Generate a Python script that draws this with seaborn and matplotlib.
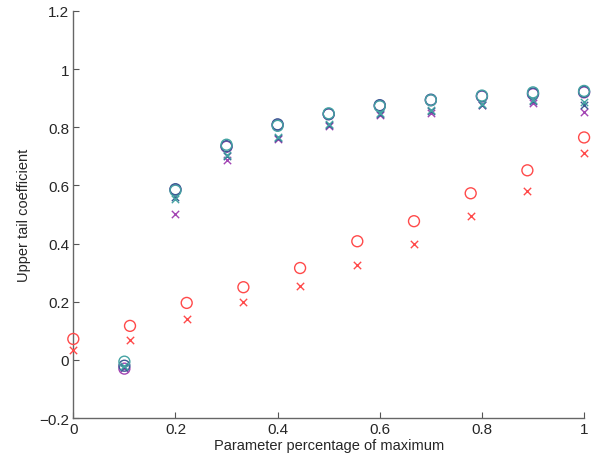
import pandas as pd
import matplotlib
matplotlib.use("Agg")
import matplotlib.pyplot as plt
import seaborn as sns

# x positions
x_red = [0, 0.111, 0.222, 0.333, 0.444, 0.556, 0.667, 0.778, 0.889, 1.0]
x_up = [0.1, 0.2, 0.3, 0.4, 0.5, 0.6, 0.7, 0.8, 0.9, 1.0]

# red series
red_o = [0.072, 0.117, 0.196, 0.250, 0.316, 0.408, 0.477, 0.573, 0.652, 0.765]
red_x = [0.034, 0.069, 0.141, 0.199, 0.254, 0.326, 0.400, 0.494, 0.580, 0.712]

# upper series (circles)
teal_o = [-0.006, 0.582, 0.740, 0.805, 0.848, 0.872, 0.893, 0.909, 0.920, 0.925]
blue_o = [-0.020, 0.587, 0.735, 0.810, 0.845, 0.876, 0.895, 0.907, 0.916, 0.922]
purple_o = [-0.030, 0.585, 0.733, 0.808, 0.845, 0.874, 0.893, 0.906, 0.914, 0.920]

# upper series (crosses)
teal_x = [-0.022, 0.555, 0.705, 0.765, 0.810, 0.848, 0.860, 0.880, 0.895, 0.886]
blue_x = [-0.025, 0.560, 0.700, 0.763, 0.808, 0.845, 0.857, 0.878, 0.890, 0.875]
purple_x = [-0.028, 0.503, 0.686, 0.760, 0.805, 0.843, 0.850, 0.876, 0.882, 0.853]

colors = {"teal": "#45a3a3", "blue": "#3b5a94", "purple": "#a345b3", "red": "#ff4a4a"}

series = [
    ("red", x_red, red_o, red_x),
    ("purple", x_up, purple_o, purple_x),
    ("blue", x_up, blue_o, blue_x),
    ("teal", x_up, teal_o, teal_x),
]

sns.set_style("ticks")
plt.rcParams["font.family"] = ["Liberation Sans", "DejaVu Sans"]

fig = plt.figure(figsize=(5.96, 4.6), dpi=100)
ax = fig.add_axes([0.123, 0.089, 0.857, 0.885])

for name, xs, yo, yx in series:
    c = colors[name]
    df_o = pd.DataFrame({"x": xs, "y": yo})
    df_x = pd.DataFrame({"x": xs, "y": yx})
    sns.scatterplot(data=df_o, x="x", y="y", ax=ax, marker="o", s=62,
                    color=c, facecolor="none", edgecolor=c, linewidth=1.0,
                    clip_on=False, zorder=3)
    sns.scatterplot(data=df_x, x="x", y="y", ax=ax, marker="x", s=28,
                    color=c, linewidth=1.0, clip_on=False, zorder=3)

ax.set_xlim(0, 1)
ax.set_ylim(-0.2, 1.2)
ax.set_xticks([0, 0.2, 0.4, 0.6, 0.8, 1])
ax.set_xticklabels(["0", "0.2", "0.4", "0.6", "0.8", "1"])
ax.set_yticks([-0.2, 0, 0.2, 0.4, 0.6, 0.8, 1, 1.2])
ax.set_yticklabels(["\u22120.2", "0", "0.2", "0.4", "0.6", "0.8", "1", "1.2"])
ax.tick_params(direction="in", length=4, labelsize=11, color="#555555", pad=3)
for sp in ["top", "right"]:
    ax.spines[sp].set_visible(False)
for sp in ["left", "bottom"]:
    ax.spines[sp].set_color("#666666")
    ax.spines[sp].set_linewidth(1.0)
ax.set_xlabel("Parameter percentage of maximum", fontsize=10.5, labelpad=1)
ax.set_ylabel("Upper tail coefficient", fontsize=10.5, labelpad=6)

fig.savefig("out.png", dpi=100)
